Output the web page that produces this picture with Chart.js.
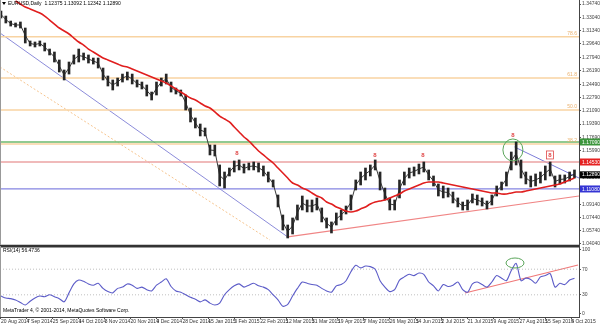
<!DOCTYPE html>
<html>
<head>
<meta charset="utf-8">
<script src="https://cdn.jsdelivr.net/npm/chart.js@4.4.0/dist/chart.umd.min.js"></script>
<style>
  html, body { margin: 0; padding: 0; background: #fff; }
  #wrap { position: relative; width: 600px; height: 325px; overflow: hidden; }
  #pw { position: absolute; left: 0; top: 0; width: 600px; height: 246px; }
  #rw { position: absolute; left: 0; top: 246px; width: 600px; height: 79px; }
</style>
</head>
<body>
<div id="wrap">
  <div id="pw"><canvas id="price"></canvas></div>
  <div id="rw"><canvas id="rsi"></canvas></div>
</div>
<script>
// x axis is in bars, one sample every 3 bars, a date label every 16 bars
const dateLabels = ['20 Aug 2014', '7 Sep 2014', '25 Sep 2014', '14 Oct 2014', '3 Nov 2014', '20 Nov 2014',
  '9 Dec 2014', '28 Dec 2014', '15 Jan 2015', '3 Feb 2015', '22 Feb 2015', '12 Mar 2015', '31 Mar 2015',
  '19 Apr 2015', '7 May 2015', '26 May 2015', '14 Jun 2015', '2 Jul 2015', '21 Jul 2015', '9 Aug 2015',
  '27 Aug 2015', '15 Sep 2015', '4 Oct 2015']
const priceTicks = [1.34740, 1.33040, 1.31340, 1.29640, 1.27940, 1.26190, 1.24490, 1.22790, 1.21090, 1.19390,
  1.17690, 1.15990, 1.14290, 1.12590, 1.10890, 1.09140, 1.07440, 1.05740, 1.04040]
const rsiTicks = [0, 30, 70, 100]

const highs = [1.3384,1.3320,1.3256,1.3231,1.3244,1.3167,1.3001,1.2988,1.3001,1.2975,
  1.2898,1.2860,1.2758,1.2630,1.2732,1.2822,1.2898,1.2847,1.2822,1.2783,
  1.2783,1.2655,1.2553,1.2502,1.2527,1.2578,1.2604,1.2578,1.2502,1.2476,
  1.2438,1.2348,1.2476,1.2527,1.2578,1.2476,1.2399,1.2374,1.2310,1.2144,
  1.2016,1.1939,1.1888,1.1670,1.1670,1.1415,1.1325,1.1376,1.1466,1.1479,
  1.1427,1.1440,1.1453,1.1440,1.1402,1.1325,1.1223,1.1031,1.0775,1.0647,
  1.0737,1.0903,1.1018,1.0967,1.0967,1.0993,1.0865,1.0737,1.0686,1.0801,
  1.0839,1.0890,1.1031,1.1223,1.1325,1.1376,1.1415,1.1479,1.1325,1.1120,
  1.0993,1.0967,1.1223,1.1325,1.1376,1.1389,1.1427,1.1453,1.1351,1.1274,
  1.1172,1.1146,1.1120,1.1069,1.0993,1.0941,1.0967,1.1044,1.1031,1.0993,
  1.0954,1.1031,1.1146,1.1197,1.1325,1.1581,1.1709,1.1479,1.1325,1.1274,
  1.1300,1.1325,1.1402,1.1453,1.1274,1.1287,1.1287,1.1325,1.1351]
const lows = [1.3295,1.3231,1.3192,1.3180,1.3167,1.2975,1.2937,1.2924,1.2937,1.2873,
  1.2822,1.2732,1.2604,1.2502,1.2578,1.2706,1.2732,1.2758,1.2719,1.2706,
  1.2655,1.2502,1.2425,1.2374,1.2425,1.2476,1.2502,1.2451,1.2412,1.2387,
  1.2297,1.2246,1.2310,1.2425,1.2451,1.2348,1.2323,1.2297,1.2118,1.1965,
  1.1888,1.1786,1.1786,1.1543,1.1530,1.1146,1.1120,1.1274,1.1325,1.1351,
  1.1312,1.1351,1.1351,1.1325,1.1274,1.1197,1.1133,1.0878,1.0583,1.0481,
  1.0532,1.0711,1.0839,1.0814,1.0814,1.0839,1.0686,1.0609,1.0545,1.0647,
  1.0711,1.0788,1.0839,1.1095,1.1159,1.1223,1.1274,1.1351,1.1095,1.0967,
  1.0839,1.0839,1.0993,1.1159,1.1248,1.1274,1.1300,1.1325,1.1223,1.1146,
  1.1018,1.0993,1.1005,1.0929,1.0878,1.0839,1.0839,1.0929,1.0903,1.0890,
  1.0852,1.0903,1.1018,1.1095,1.1146,1.1351,1.1415,1.1248,1.1172,1.1133,
  1.1146,1.1184,1.1223,1.1274,1.1133,1.1172,1.1184,1.1210,1.1248]
const ma = [null,null,null,1.3512,1.3474,1.3435,1.3410,1.3384,1.3359,1.3320,
  1.3269,1.3218,1.3167,1.3129,1.3090,1.3039,1.2988,1.2949,1.2898,1.2860,
  1.2822,1.2783,1.2758,1.2732,1.2706,1.2681,1.2668,1.2642,1.2617,1.2591,
  1.2566,1.2540,1.2514,1.2489,1.2463,1.2425,1.2387,1.2348,1.2310,1.2271,
  1.2246,1.2208,1.2169,1.2144,1.2093,1.2041,1.2003,1.1965,1.1901,1.1837,
  1.1773,1.1722,1.1658,1.1594,1.1543,1.1491,1.1440,1.1376,1.1312,1.1248,
  1.1184,1.1159,1.1120,1.1095,1.1057,1.1018,1.0993,1.0941,1.0916,1.0878,
  1.0852,1.0826,1.0814,1.0826,1.0852,1.0878,1.0916,1.0941,1.0954,1.0967,
  1.0993,1.1018,1.1044,1.1082,1.1108,1.1133,1.1159,1.1184,1.1197,1.1197,
  1.1197,1.1184,1.1172,1.1159,1.1146,1.1133,1.1120,1.1108,1.1095,1.1082,
  1.1069,1.1057,1.1057,1.1044,1.1044,1.1057,1.1069,1.1069,1.1082,1.1095,
  1.1108,1.1120,1.1133,1.1146,1.1159,1.1172,1.1197,1.1223,1.1248]
const rsi = [28,25,24,22,18,14,20,25,28,27,
  30,27,24,19,33,47,53,51,47,45,
  48,40,35,33,40,42,47,45,40,42,
  38,36,45,50,55,43,36,34,30,26,
  23,19,22,17,14,17,30,38,44,47,
  42,45,48,44,42,38,30,22,12,15,
  28,40,50,48,46,45,40,36,34,44,
  46,52,66,76,72,75,74,70,52,42,
  35,38,53,58,62,60,64,62,50,44,
  36,46,43,45,50,38,34,47,50,46,
  42,50,60,56,52,68,79,52,56,54,
  48,58,60,63,42,48,46,53,56]

// drawn objects
const fibLevels = [1.3054, 1.2527, 1.2118, 1.1683]
const fibLabels = ['78.6', '61.8', '50.0', '38.2']
const levelGreen = 1.1709
const levelRed = 1.1453
const levelBlue = 1.1108
const lastClose = 1.1289
const channelBars = [-0.6, 177]
const channelPrices = [1.3103, 1.0494]
const dottedBars = [-0.6, 166]
const dottedPrices = [1.2668, 1.0455]
const supportBars = [177, 356.8]
const supportPrices = [1.0494, 1.1018]
const resistBars = [317, 356.8]
const resistPrices = [1.1645, 1.1248]
const rsiTrendBars = [286.4, 356.2]
const rsiTrendValues = [32.8, 76.6]
const markerBars = [145.7, 230.9, 260.5, 316, 338.9]
const markerPrices = [1.1568, 1.1543, 1.1543, 1.1798, 1.1543]

const X_MIN = -0.6, X_MAX = 356.8
const P_MIN = 1.03912, P_MAX = 1.35252
const R_MIN = -4.69, R_MAX = 106.25
const FONT = '"Liberation Sans", Arial, sans-serif'

const line = (bars, vals, color, width, dash) => ({
  type: 'line',
  data: bars.map((b, i) => ({ x: b, y: vals[i] })),
  borderColor: color, borderWidth: width, borderDash: dash || [],
  pointRadius: 0, order: 10
})
const hline = (v, color, width) => line([X_MIN, X_MAX], [v, v], color, width)

const priceOverlay = {
  id: 'priceOverlay',
  afterDatasetsDraw(chart) {
    const { ctx, chartArea: a, scales: { x, y } } = chart
    ctx.save()
    ctx.font = '5px ' + FONT
    ctx.fillStyle = '#eab06c'
    ctx.textAlign = 'right'
    ctx.textBaseline = 'bottom'
    fibLevels.forEach((lv, i) => ctx.fillText(fibLabels[i], a.right - 2, y.getPixelForValue(lv) - 0.5))

    ctx.font = 'bold 6px ' + FONT
    ctx.fillStyle = '#e04848'
    ctx.strokeStyle = '#e04848'
    ctx.lineWidth = 0.8
    ctx.textAlign = 'center'
    ctx.textBaseline = 'middle'
    markerBars.forEach((b, i) => {
      const px = x.getPixelForValue(b), py = y.getPixelForValue(markerPrices[i])
      ctx.fillText('8', px, py)
      if (i === markerBars.length - 1) ctx.strokeRect(px - 3.5, py - 4, 7, 8)
    })

    ctx.strokeStyle = '#5aa55a'
    ctx.lineWidth = 1
    ctx.beginPath()
    ctx.ellipse(x.getPixelForValue(316), y.getPixelForValue(1.1607), 10, 11, 0, 0, Math.PI * 2)
    ctx.stroke()
    ctx.restore()
  },
  afterDraw(chart) {
    const { ctx, chartArea: a, scales: { y } } = chart
    ctx.save()
    const boxes = [[levelGreen, '#3c963c'], [levelRed, '#e52222'], [lastClose, '#000000'], [levelBlue, '#3434d4']]
    ctx.font = '5px ' + FONT
    ctx.textAlign = 'left'
    ctx.textBaseline = 'middle'
    boxes.forEach(([v, c]) => {
      const py = y.getPixelForValue(v)
      ctx.fillStyle = c
      ctx.fillRect(a.right + 1, py - 3.5, 20, 7)
      ctx.fillStyle = '#fff'
      ctx.fillText(v.toFixed(5), a.right + 3, py + 0.3)
    })
    // title
    ctx.fillStyle = '#000'
    ctx.beginPath()
    ctx.moveTo(2, 2); ctx.lineTo(6, 2); ctx.lineTo(4, 5); ctx.closePath(); ctx.fill()
    ctx.fillText('EURUSD,Daily  1.12375 1.13092 1.12342 1.12890', 8, 4)
    // frame
    ctx.strokeStyle = '#333'
    ctx.lineWidth = 1.5
    ctx.beginPath(); ctx.moveTo(0, a.bottom + 0.5); ctx.lineTo(a.right, a.bottom + 0.5); ctx.stroke()
    ctx.strokeStyle = '#999'
    ctx.lineWidth = 1
    ctx.beginPath(); ctx.moveTo(0.5, 0); ctx.lineTo(0.5, a.bottom); ctx.stroke()
    ctx.restore()
  }
}

const rsiOverlay = {
  id: 'rsiOverlay',
  afterDraw(chart) {
    const { ctx, chartArea: a, scales: { x, y } } = chart
    ctx.save()
    ctx.font = '5px ' + FONT
    ctx.fillStyle = '#000'
    ctx.textBaseline = 'middle'
    ctx.fillText('RSI(14) 56.4736', 3, 5)
    ctx.fillText('MetaTrader 4, \u00a9 2001-2014, MetaQuotes Software Corp.', 3, 65)
    ctx.strokeStyle = '#5aa55a'
    ctx.lineWidth = 1
    ctx.beginPath()
    ctx.ellipse(x.getPixelForValue(317.3), y.getPixelForValue(79.7), 9, 5, 0, 0, Math.PI * 2)
    ctx.stroke()
    ctx.strokeStyle = '#333'
    ctx.lineWidth = 1.5
    ctx.beginPath(); ctx.moveTo(0, 0.75); ctx.lineTo(a.right, 0.75); ctx.stroke()
    ctx.strokeStyle = '#999'
    ctx.lineWidth = 1
    ctx.beginPath(); ctx.moveTo(0.5, 0); ctx.lineTo(0.5, a.bottom); ctx.stroke()
    ctx.restore()
  }
}

const tickFont = { family: FONT, size: 5 }

new Chart(document.getElementById('price'), {
  type: 'bar',
  data: {
    datasets: [
      ...fibLevels.map(v => hline(v, '#f8d3a2', 1.5)),
      hline(levelGreen, '#6cb86c', 1.5),
      hline(levelRed, '#eba3a3', 1.5),
      hline(levelBlue, '#8585e2', 1.2),
      line(channelBars, channelPrices, '#8c8cda', 1),
      line(dottedBars, dottedPrices, '#f6c48e', 1, [2, 2]),
      line(supportBars, supportPrices, '#f08585', 1.2),
      line(resistBars, resistPrices, '#7c7cd8', 1),
      {
        type: 'bar',
        data: highs.map((h, i) => ({ x: i * 3, y: [lows[i], h] })),
        backgroundColor: '#262626',
        barThickness: 2,
        grouped: false,
        order: 5
      },
      {
        // thin line through the middle of each range, joins the bars like the candle wicks do
        type: 'line',
        data: highs.map((h, i) => ({ x: i * 3, y: (h + lows[i]) / 2 })),
        borderColor: '#3a3a3a', borderWidth: 1, pointRadius: 0, order: 6
      },
      {
        type: 'line',
        data: ma.map((v, i) => ({ x: i * 3, y: v })).filter(p => p.y !== null),
        borderColor: '#e01e1e', borderWidth: 1.6, pointRadius: 0, tension: 0.3, order: 1
      }
    ]
  },
  options: {
    responsive: true,
    maintainAspectRatio: false,
    animation: false,
    layout: { padding: { left: 0, right: 0, top: 0, bottom: 1 } },
    plugins: { legend: { display: false }, tooltip: { enabled: false } },
    scales: {
      x: { type: 'linear', min: X_MIN, max: X_MAX, offset: false, display: false },
      y: {
        position: 'right', min: P_MIN, max: P_MAX,
        afterBuildTicks: s => { s.ticks = priceTicks.map(v => ({ value: v })) },
        afterFit: s => { s.width = 21; s.paddingTop = 0; s.paddingBottom = 0 },
        ticks: { font: tickFont, color: '#444', padding: 1, autoSkip: false, callback: v => v.toFixed(5) },
        grid: { drawOnChartArea: false, tickLength: 2, color: '#555' },
        border: { color: '#444', width: 1 }
      }
    }
  },
  plugins: [priceOverlay]
})

new Chart(document.getElementById('rsi'), {
  type: 'line',
  data: {
    datasets: [
      line([X_MIN, X_MAX], [70, 70], '#b0b0b0', 0.8, [1, 2]),
      line([X_MIN, X_MAX], [30, 30], '#b0b0b0', 0.8, [1, 2]),
      line(rsiTrendBars, rsiTrendValues, '#f07878', 1.2),
      {
        data: rsi.map((v, i) => ({ x: i * 3, y: v })),
        borderColor: '#5c5cc8', borderWidth: 1.1, pointRadius: 0, tension: 0.25, order: 1
      }
    ]
  },
  options: {
    responsive: true,
    maintainAspectRatio: false,
    animation: false,
    layout: { padding: 0 },
    plugins: { legend: { display: false }, tooltip: { enabled: false } },
    scales: {
      x: {
        type: 'linear', min: X_MIN, max: X_MAX, offset: false,
        afterBuildTicks: s => { s.ticks = dateLabels.map((l, k) => ({ value: k * 16 })) },
        afterFit: s => { s.height = 8; s.paddingLeft = 0; s.paddingRight = 0 },
        ticks: { font: tickFont, color: '#333', padding: 0, align: 'start', maxRotation: 0, autoSkip: false,
          callback: (v, i) => dateLabels[i] },
        grid: { drawOnChartArea: false, tickLength: 2, color: '#555' },
        border: { color: '#444', width: 1 }
      },
      y: {
        position: 'right', min: R_MIN, max: R_MAX,
        afterBuildTicks: s => { s.ticks = rsiTicks.map(v => ({ value: v })) },
        afterFit: s => { s.width = 21; s.paddingTop = 0; s.paddingBottom = 0 },
        ticks: { font: tickFont, color: '#444', padding: 1, autoSkip: false },
        grid: { drawOnChartArea: false, tickLength: 2, color: '#555' },
        border: { color: '#444', width: 1 }
      }
    }
  },
  plugins: [rsiOverlay]
})
</script>
</body>
</html>
